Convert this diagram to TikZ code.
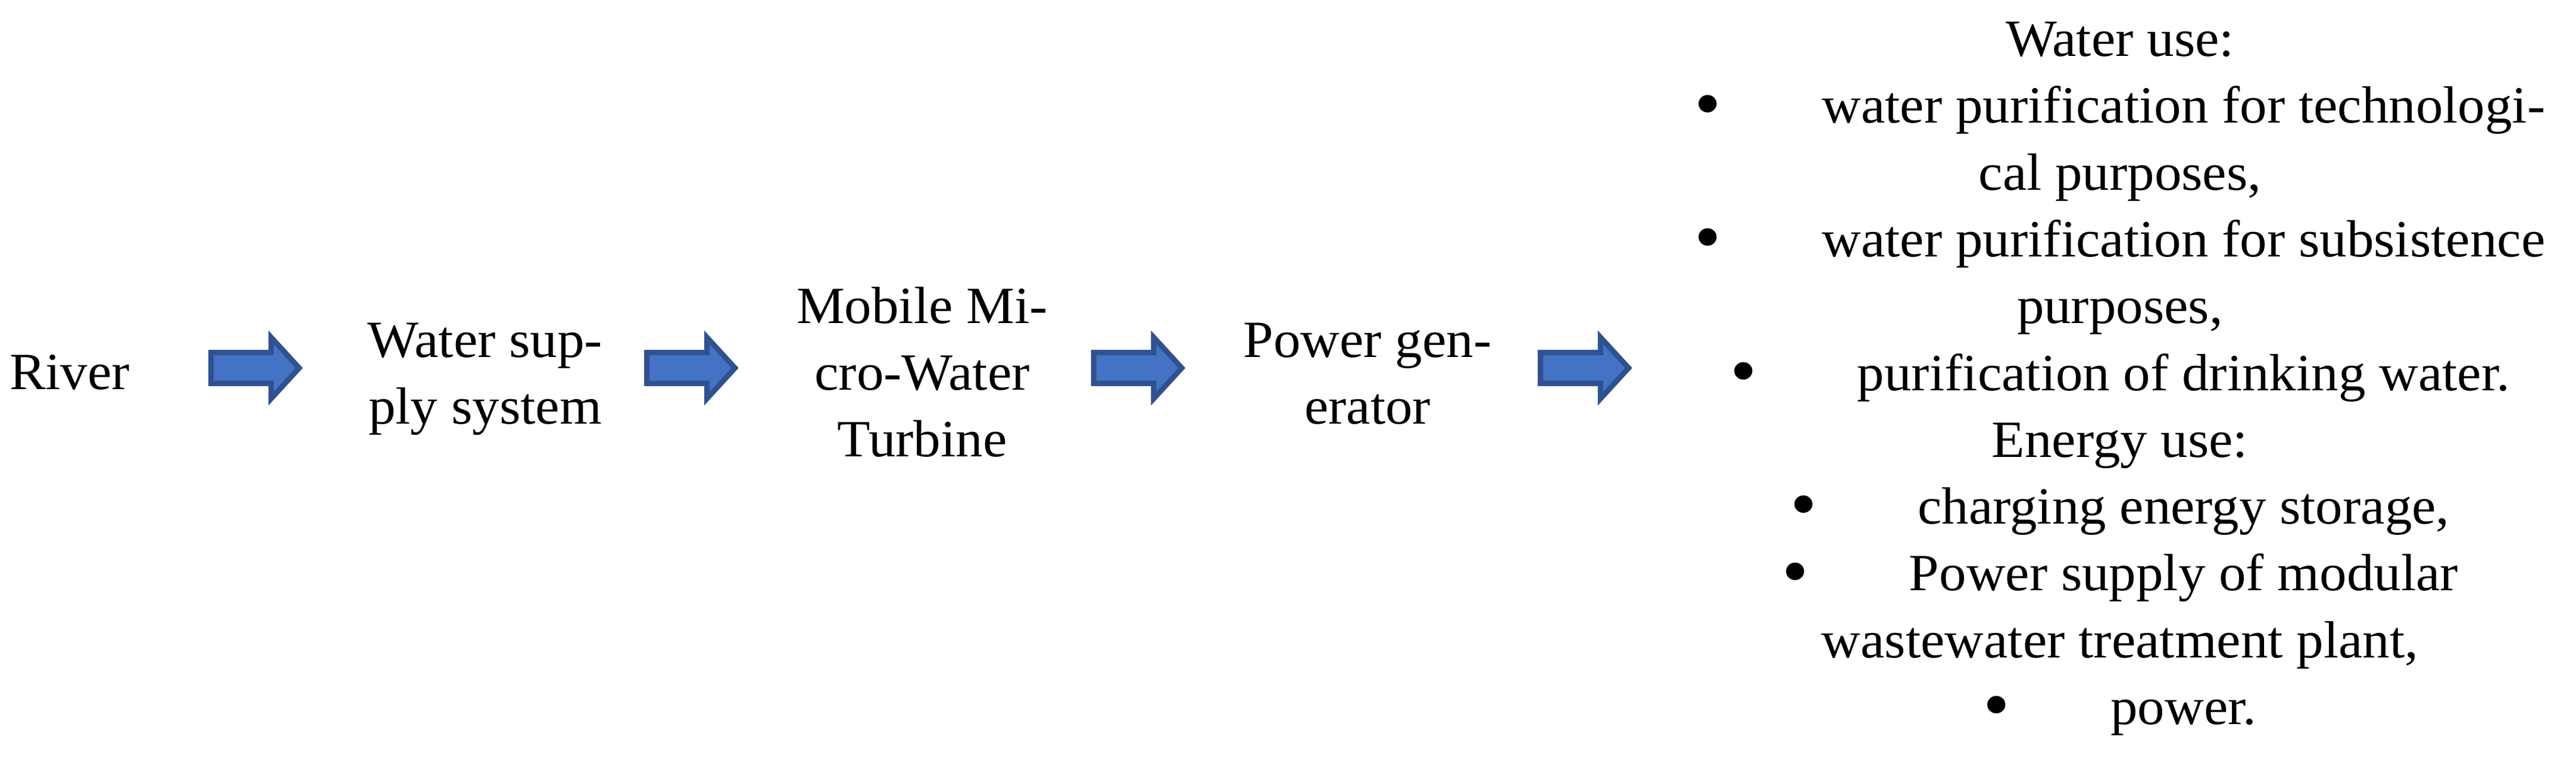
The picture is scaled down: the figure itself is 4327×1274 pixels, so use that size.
\documentclass[tikz,border=0pt]{standalone}
\usepackage{fontspec}
\setmainfont[FakeStretch=1.035]{Liberation Serif}
\usetikzlibrary{shapes.arrows}

\definecolor{arrowfill}{HTML}{4472C4}
\definecolor{arrowline}{HTML}{2F528F}

\newcommand\itembul{\makebox[7.7mm][l]{\raisebox{-0.3mm}{\scalebox{1.4}{\textbullet}}}}

\tikzset{
  lbl/.style={inner sep=0pt, outer sep=0pt, align=center, anchor=base,
    font=\fontsize{9}{11.5}\selectfont},
  blockarrow/.style={single arrow, draw=arrowline, fill=arrowfill, line width=0.92pt,
    inner xsep=0pt, inner ysep=0.774mm, outer sep=0pt, minimum width=0pt,
    minimum height=5.33mm, single arrow head extend=0.92mm,
    single arrow tip angle=95, anchor=tail}
}

\begin{document}
\begin{tikzpicture}[x=0.036mm, y=-0.036mm]
\useasboundingbox (0,0) rectangle (4327,1274);

% base = baseline of the last line
\node (River) [lbl, anchor=base west] at (16,655) {River};
\node (Supply) [lbl] at (815,713) {Water sup-\\ply system};
\node (Turbine) [lbl] at (1549,768) {Mobile Mi-\\cro-Water\\Turbine};
\node (Generator) [lbl] at (2297,713) {Power gen-\\erator};

%Uses:
\node (Uses) [lbl] at (3561,1217.5) {Water use:\\
\itembul water purification for technologi-\\
cal purposes,\\
\itembul water purification for subsistence\\
purposes,\\
\itembul purification of drinking water.\\
Energy use:\\
\itembul charging energy storage,\\
\itembul Power supply of modular\\
wastewater treatment plant,\\
\itembul power.};

%Arrows:
\node (A1) [blockarrow] at (354.5,618.5) {};
\node (A2) [blockarrow] at (1086.5,618.5) {};
\node (A3) [blockarrow] at (1837,618.5) {};
\node (A4) [blockarrow] at (2587.5,618.5) {};

\end{tikzpicture}
\end{document}
